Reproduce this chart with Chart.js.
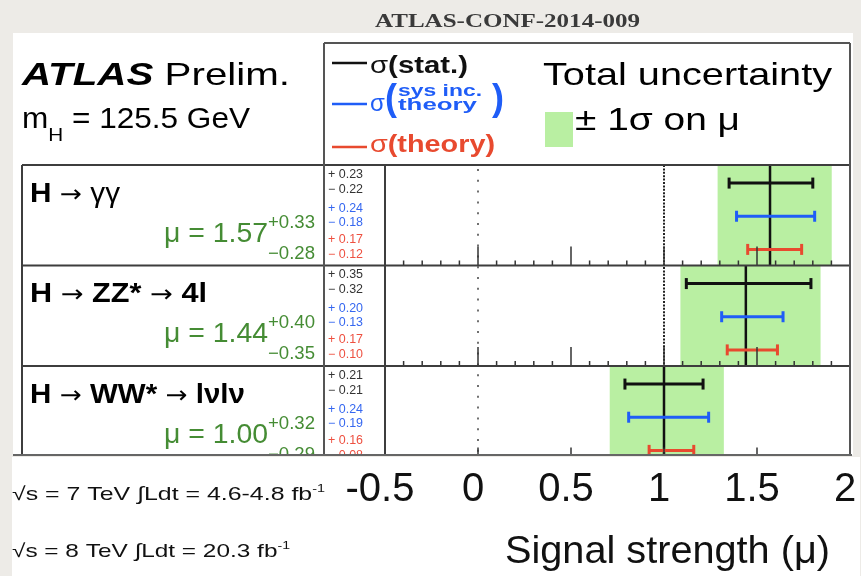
<!DOCTYPE html>
<html>
<head>
<meta charset="utf-8">
<title>Signal strength</title>
<script src="https://cdn.jsdelivr.net/npm/chart.js@4.4.1/dist/chart.umd.min.js"></script>
<style>
  html, body { margin: 0; padding: 0; background: #edebe7; }
  canvas { display: block; }
</style>
</head>
<body>
<canvas id="chart" width="861" height="576"></canvas>
<script>
// Measured signal strength per Higgs decay channel
const channels = ["H → γγ", "H → ZZ* → 4l", "H → WW* → lνlν"];
const mu       = [1.57, 1.44, 1.00];
const totUp    = [0.33, 0.40, 0.32];
const totDown  = [0.28, 0.35, 0.29];
const statUp   = [0.23, 0.35, 0.21];
const statDown = [0.22, 0.32, 0.21];
const sysUp    = [0.24, 0.20, 0.24];
const sysDown  = [0.18, 0.13, 0.19];
const thUp     = [0.17, 0.17, 0.16];
const thDown   = [0.12, 0.10, 0.08];
const xTicks   = [-0.5, 0, 0.5, 1, 1.5, 2];

// layout
const ROWS_SHOWN = 2.886;          // last row is cut by the frame
const BAR_POS = [0.18, 0.51, 0.84]; // stat / sys / theory bar heights inside a row

const SANS = "'Liberation Sans', Arial, sans-serif";
const DEJAVU = "'DejaVu Sans', sans-serif";
const GREEN = "#b9efa2";
const BLACK = "#111111";
const BLUE = "#1f5df7";
const RED = "#e84a2f";
const TEXT_GREEN = "#458c34";

// datasets: green band, central line, three error bars per row
const datasets = [];
mu.forEach((m, i) => {
  const bars = [
    [statDown[i], statUp[i], BLACK],
    [sysDown[i], sysUp[i], BLUE],
    [thDown[i], thUp[i], RED]
  ];
  bars.forEach((b, k) => {
    datasets.push({
      type: "scatter",
      showLine: true,
      data: [{ x: m - b[0], y: i + BAR_POS[k] }, { x: m + b[1], y: i + BAR_POS[k] }],
      borderColor: b[2],
      borderWidth: 3,
      pointStyle: "line",
      rotation: 90,
      pointRadius: 5.5,
      pointBorderWidth: 3,
      pointBorderColor: b[2],
      clip: 0,
      order: 0
    });
  });
  datasets.push({
    type: "scatter",
    showLine: true,
    data: [{ x: m, y: i }, { x: m, y: i + 1 }],
    borderColor: BLACK,
    borderWidth: 2.5,
    pointRadius: 0,
    clip: 0,
    order: 1
  });
});
datasets.push({
  type: "bar",
  indexAxis: "y",
  data: mu.map((m, i) => ({ y: i + 0.5, x: [m - totDown[i], m + totUp[i]] })),
  backgroundColor: GREEN,
  borderWidth: 0,
  barThickness: "flex",
  categoryPercentage: 1,
  barPercentage: 1,
  clip: 0,
  order: 5
});

// text helpers
function fitText(ctx, s, x, y, w, font, color, align) {
  ctx.save();
  ctx.font = font;
  ctx.fillStyle = color;
  ctx.textAlign = "left";
  ctx.textBaseline = "alphabetic";
  const m = ctx.measureText(s).width;
  const k = w ? w / m : 1;
  ctx.translate(align === "right" ? x - m * k : x, y);
  ctx.scale(k, 1);
  ctx.fillText(s, 0, 0);
  ctx.restore();
}

function runs(ctx, parts, x, y, w) {
  ctx.save();
  ctx.textAlign = "left";
  ctx.textBaseline = "alphabetic";
  let total = 0;
  parts.forEach(p => { ctx.font = p.font; p.w = ctx.measureText(p.s).width; total += p.w; });
  const k = w ? w / total : 1;
  ctx.translate(x, y);
  ctx.scale(k, 1);
  let cx = 0;
  parts.forEach(p => {
    ctx.font = p.font;
    ctx.fillStyle = p.color;
    ctx.fillText(p.s, cx, p.dy || 0);
    cx += p.w;
  });
  ctx.restore();
}

function line(ctx, x1, y1, x2, y2) {
  ctx.beginPath();
  ctx.moveTo(x1, y1);
  ctx.lineTo(x2, y2);
  ctx.stroke();
}

const fmt = v => v.toFixed(2);

const decor = {
  id: "decor",
  beforeDraw(chart) {
    const ctx = chart.ctx;
    ctx.save();
    ctx.fillStyle = "#ffffff";
    ctx.fillRect(13, 33, 840, 422);
    ctx.fillRect(12, 457, 848, 119);
    ctx.restore();
  },
  beforeDatasetsDraw(chart) {
    const ctx = chart.ctx;
    const { x } = chart.scales;
    const top = chart.chartArea.top, bottom = chart.chartArea.bottom;
    ctx.save();
    // reference lines at mu = 0 and mu = 1
    ctx.lineWidth = 2;
    ctx.strokeStyle = "#707070";
    ctx.setLineDash([2, 8.8]);
    line(ctx, x.getPixelForValue(0), top + 4, x.getPixelForValue(0), bottom);
    ctx.strokeStyle = "#222";
    ctx.setLineDash([2, 1.4]);
    line(ctx, x.getPixelForValue(1), top, x.getPixelForValue(1), bottom);
    ctx.restore();
  },
  afterDatasetsDraw(chart) {
    const ctx = chart.ctx;
    const { x, y } = chart.scales;
    const a = chart.chartArea;
    ctx.save();
    // tick marks along each row boundary
    ctx.beginPath();
    ctx.rect(a.left, a.top, a.right - a.left, a.bottom - a.top);
    ctx.clip();
    ctx.strokeStyle = "#333";
    ctx.lineWidth = 1.5;
    for (let r = 1; r <= 3; r++) {
      const py = y.getPixelForValue(r);
      for (let k = -5; k <= 20; k++) {
        const px = x.getPixelForValue(k / 10);
        const len = k % 5 === 0 ? 19 : 5;
        line(ctx, px, py, px, py - len);
      }
    }
    ctx.restore();

    ctx.save();
    ctx.strokeStyle = "#3d3d3d";
    ctx.lineWidth = 2;
    // table grid
    line(ctx, 22, a.top, a.right, a.top);
    for (let r = 1; r <= 2; r++) {
      const py = y.getPixelForValue(r);
      line(ctx, 22, py, a.right, py);
    }
    line(ctx, 22, a.top, 22, a.bottom);
    line(ctx, a.left, a.top, a.left, a.bottom);
    // legend box + column line
    ctx.strokeStyle = "#555";
    line(ctx, 324, 43, a.right, 43);
    line(ctx, 324, 43, 324, a.bottom);
    line(ctx, a.right, 43, a.right, a.bottom);
    ctx.strokeStyle = "#666";
    line(ctx, 13, a.bottom, 852, a.bottom);
    ctx.restore();
  },
  afterDraw(chart) {
    const ctx = chart.ctx;
    const { y } = chart.scales;

    fitText(ctx, "ATLAS-CONF-2014-009", 375, 27, 265, "bold 18px 'Liberation Serif', serif", "#3a3a3a");

    runs(ctx, [
      { s: "ATLAS", font: "italic bold 32px " + SANS, color: "#000" },
      { s: " Prelim.", font: "32px " + SANS, color: "#000" }
    ], 22, 85, 268);
    runs(ctx, [
      { s: "m", font: "29px " + SANS, color: "#000" },
      { s: "H", font: "19px " + SANS, color: "#000", dy: 13 },
      { s: " = 125.5 GeV", font: "29px " + SANS, color: "#000" }
    ], 22, 128, 228);

    // legend
    ctx.save();
    ctx.lineWidth = 2.5;
    [[63, BLACK], [104, BLUE], [147, RED]].forEach(l => {
      ctx.strokeStyle = l[1];
      line(ctx, 332, l[0], 367, l[0]);
    });
    ctx.restore();
    runs(ctx, [
      { s: "σ", font: "24px " + SANS, color: BLACK },
      { s: "(stat.)", font: "bold 24px " + SANS, color: BLACK }
    ], 370, 73, 98);
    fitText(ctx, "σ", 370, 111, 0, "24px " + SANS, BLUE);
    fitText(ctx, "(", 385, 110, 0, "bold 36px " + SANS, BLUE);
    fitText(ctx, "sys inc.", 398, 96, 84, "bold 17px " + SANS, BLUE);
    fitText(ctx, "theory", 398, 110, 79, "bold 17px " + SANS, BLUE);
    fitText(ctx, ")", 492, 110, 0, "bold 36px " + SANS, BLUE);
    runs(ctx, [
      { s: "σ", font: "24px " + SANS, color: RED },
      { s: "(theory)", font: "bold 24px " + SANS, color: RED }
    ], 370, 152, 125);

    fitText(ctx, "Total uncertainty", 543, 85, 289, "32px " + SANS, "#000");
    ctx.fillStyle = GREEN;
    ctx.fillRect(545, 112, 28, 35);
    fitText(ctx, "± 1σ on μ", 575, 130, 165, "32px " + SANS, "#000");

    // channel rows, clipped at the frame bottom
    ctx.save();
    ctx.beginPath();
    ctx.rect(13, 33, 840, chart.chartArea.bottom - 34);
    ctx.clip();
    const titleW = [90, 177, 215];
    channels.forEach((name, i) => {
      const T = y.getPixelForValue(i);
      const parts = [];
      name.split(" ").forEach((tok, j) => {
        let font = "bold 27px " + SANS;
        if (tok === "→") font = "24px " + DEJAVU;
        else if (/γ/.test(tok)) font = "27px " + SANS;
        parts.push({ s: (j ? " " : "") + tok, font: font, color: "#000" });
      });
      runs(ctx, parts, 30, T + 37, titleW[i]);

      fitText(ctx, "μ = " + fmt(mu[i]), 268, T + 77, 104, "28px " + SANS, TEXT_GREEN, "right");
      fitText(ctx, "+" + fmt(totUp[i]), 268, T + 63, 47, "18px " + SANS, TEXT_GREEN);
      fitText(ctx, "\u2212" + fmt(totDown[i]), 268, T + 94, 47, "18px " + SANS, TEXT_GREEN);

      const nums = [
        ["+ " + fmt(statUp[i]), 13, "#333"],
        ["\u2212 " + fmt(statDown[i]), 28, "#333"],
        ["+ " + fmt(sysUp[i]), 47, "#3567f0"],
        ["\u2212 " + fmt(sysDown[i]), 61, "#3567f0"],
        ["+ " + fmt(thUp[i]), 78, "#ee5040"],
        ["\u2212 " + fmt(thDown[i]), 93, "#ee5040"]
      ];
      nums.forEach(n => fitText(ctx, n[0], 328, T + n[1], 35, "12px " + SANS, n[2]));
    });
    ctx.restore();

    // luminosity and axis title
    runs(ctx, [
      { s: "√s = 7 TeV ∫Ldt = 4.6-4.8 fb", font: "19px " + SANS, color: "#111" },
      { s: "-1", font: "11px " + SANS, color: "#111", dy: -8 }
    ], 12, 500, 313);
    runs(ctx, [
      { s: "√s = 8 TeV ∫Ldt = 20.3 fb", font: "19px " + SANS, color: "#111" },
      { s: "-1", font: "11px " + SANS, color: "#111", dy: -8 }
    ], 12, 557, 278);
    fitText(ctx, "Signal strength (μ)", 505, 563, 325, "39px " + SANS, "#111");
  }
};

new Chart(document.getElementById("chart"), {
  type: "scatter",
  data: { datasets: datasets },
  options: {
    responsive: false,
    animation: false,
    events: [],
    layout: { padding: { left: 385, right: 11, top: 165, bottom: 0 } },
    plugins: { legend: { display: false }, tooltip: { enabled: false } },
    scales: {
      x: {
        type: "linear",
        min: -0.5,
        max: 2,
        offset: false,
        grid: { display: false, drawTicks: false, offset: false },
        border: { display: false },
        afterBuildTicks: s => { s.ticks = xTicks.map(v => ({ value: v })); },
        afterFit: s => { s.height = 121; s.paddingLeft = 0; s.paddingRight = 0; },
        ticks: {
          autoSkip: false,
          maxRotation: 0,
          padding: 11,
          labelOffset: -5,
          color: "#111",
          font: { family: SANS, size: 40 },
          callback: v => String(v)
        }
      },
      y: {
        type: "linear",
        display: false,
        reverse: true,
        offset: false,
        grid: { offset: false },
        min: 0,
        max: ROWS_SHOWN,
        afterFit: s => { s.paddingTop = 0; s.paddingBottom = 0; }
      }
    }
  },
  plugins: [decor]
});
</script>
</body>
</html>
